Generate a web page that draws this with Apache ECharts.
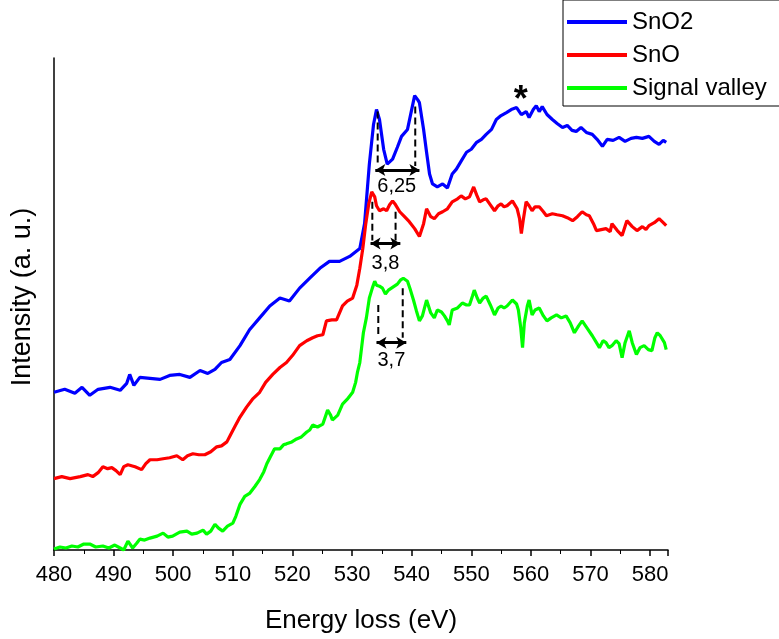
<!DOCTYPE html>
<html><head><meta charset="utf-8">
<script src="https://cdn.jsdelivr.net/npm/echarts@6/dist/echarts.min.js"></script>
<style>html,body{margin:0;padding:0;background:#fff}#c{width:779px;height:639px}</style>
</head><body><div id="c"></div>
<script>
const FONT = 'Liberation Sans, Arial, sans-serif';
const seriesNames = ['SnO2', 'SnO', 'Signal valley'];
const xTicks = [480, 490, 500, 510, 520, 530, 540, 550, 560, 570, 580];

const energySnO2 = [480.0,481.8,483.5,484.7,486.0,487.4,489.4,491.1,492.2,492.7,493.4,494.4,496.1,497.8,499.4,501.1,502.8,504.5,505.8,507.0,508.1,509.5,511.2,512.8,514.5,516.2,517.9,519.5,521.2,522.9,524.6,526.2,527.9,529.6,531.3,532.1,532.9,533.6,534.1,534.6,535.3,535.9,536.8,537.6,538.3,539.3,540.0,540.5,541.0,541.3,542.0,542.5,543.0,543.5,544.3,545.2,546.0,546.8,547.5,548.3,549.2,550.0,550.9,551.7,552.5,553.4,554.2,555.0,555.9,556.7,557.6,558.4,559.2,559.7,560.4,560.9,561.4,561.9,562.7,563.6,564.4,565.3,566.1,566.9,567.6,568.4,569.3,570.3,571.1,572.0,572.8,573.8,574.8,575.8,576.8,577.7,578.7,579.8,580.7,581.5,582.2,582.7];
const intensitySnO2 = [159,162,158,164,156,162,164,161,168,177,166,174,173,172,176,177,174,181,178,182,189,192,206,222,234,246,254,251,264,274,284,291,291,296,304,329,389,429,444,434,404,389,394,406,417,424,444,458,454,451,424,401,379,369,366,369,365,379,384,392,401,404,411,414,419,424,434,438,441,444,446,439,442,436,444,448,442,447,439,434,430,426,428,423,422,426,421,419,414,407,414,413,416,412,415,416,415,417,412,409,413,411];

const energySnO = [480.0,481.3,482.7,484.4,485.7,486.5,487.4,488.2,489.0,489.7,490.4,491.1,491.7,492.4,493.6,494.7,495.4,496.1,497.3,498.3,499.4,500.6,501.6,502.4,503.3,504.3,505.3,506.3,507.3,508.1,509.0,509.6,510.3,511.2,512.3,513.3,514.5,515.5,516.7,517.9,519.0,520.0,521.2,522.4,523.4,524.2,525.1,525.7,526.6,527.4,528.4,529.2,530.1,530.8,531.3,531.8,532.3,532.8,533.3,533.8,534.1,534.6,535.3,535.8,536.3,536.8,537.3,538.0,538.8,539.6,540.5,541.3,542.0,542.5,543.2,543.8,544.5,545.2,546.0,546.8,547.7,548.3,549.0,549.7,550.4,550.9,551.4,552.0,552.5,553.2,553.9,554.5,555.0,555.5,556.0,556.9,557.7,558.1,558.4,558.7,559.2,559.7,560.2,560.7,561.4,562.1,562.6,563.6,564.4,565.3,566.1,567.0,567.8,568.6,569.3,569.8,570.5,571.0,571.8,572.6,573.3,573.6,574.5,575.3,576.1,577.0,577.8,578.7,579.3,579.8,580.7,581.5,582.2,582.7];
const intensitySnO = [72,74,72,74,76,74,78,84,82,83,80,76,84,86,84,81,87,91,91,92,93,95,91,95,97,96,96,99,104,105,109,116,124,134,144,152,159,169,177,184,189,196,206,211,214,216,217,231,232,232,246,251,254,267,284,304,329,349,361,356,347,342,344,342,348,352,348,341,336,331,324,316,329,344,336,334,339,341,344,351,354,357,354,356,366,358,351,353,354,348,342,347,349,346,347,352,344,334,319,332,351,347,342,346,346,341,337,339,338,337,335,332,336,341,338,337,329,322,323,324,321,329,322,317,332,326,322,326,323,327,330,334,330,327];

const energyValley = [480.0,481.0,482.0,483.0,484.0,485.0,486.0,487.0,488.2,489.2,490.2,491.1,491.7,492.4,493.2,493.9,494.4,495.2,496.1,497.3,498.3,499.1,499.9,501.1,502.3,503.1,504.0,505.0,505.6,506.3,507.0,507.6,508.3,509.1,510.0,510.5,511.2,512.0,512.8,513.7,514.5,515.2,515.7,516.3,517.0,517.9,518.5,519.0,519.9,520.7,521.5,522.4,522.9,523.4,524.2,525.1,525.9,526.4,526.7,527.6,528.4,529.2,530.1,530.6,530.9,531.3,531.6,531.9,532.4,532.9,533.4,533.8,534.1,534.6,535.1,535.6,536.1,536.6,537.1,537.6,538.1,538.6,539.3,539.8,540.3,540.8,541.3,541.8,542.5,543.2,543.8,544.3,545.0,545.5,546.0,546.3,546.8,547.7,548.5,549.2,549.7,550.2,550.5,551.0,551.4,552.0,552.5,553.2,553.9,554.5,555.0,555.5,556.0,556.9,557.6,557.9,558.3,558.6,558.9,559.4,559.7,560.2,560.7,561.4,562.1,562.7,563.4,564.3,565.1,565.9,566.6,567.3,568.0,568.6,569.4,570.3,571.0,571.5,572.1,572.6,573.1,573.6,574.3,574.8,575.3,575.8,576.5,577.0,577.7,578.3,579.0,579.7,580.3,580.8,581.2,581.7,582.0,582.4,582.7];
const intensityValley = [1,3,2,4,3,6,6,3,4,2,5,2,0,9,2,7,11,10,12,14,17,13,14,18,19,16,17,20,16,19,26,22,19,24,27,34,46,54,57,64,71,79,87,94,102,102,106,107,109,112,114,119,121,126,124,127,141,136,131,136,147,152,159,169,179,189,204,219,234,254,264,271,267,266,264,258,262,264,266,268,272,274,271,262,252,241,231,236,252,239,234,242,240,236,231,227,242,244,249,247,247,256,262,254,249,254,256,247,237,244,246,244,246,252,248,242,224,204,229,246,252,237,242,244,236,231,234,237,234,236,229,219,226,231,224,216,209,204,211,209,204,206,211,208,194,209,221,209,197,204,206,202,201,214,219,216,217,209,202];

// peak-separation annotations (SnO2, SnO, Signal valley)
const peakLabels = ['6,25', '3,8', '3,7'];
const peakLeftX = [534.3, 533.4, 534.4];
const peakRightX = [540.6, 537.3, 538.5];
const dashLeftTop = [442, 351, 247];
const dashRightTop = [447, 341, 264];
const dashBottom = [387, 312, 214];
const arrowY = [383, 309, 209];
const arrowStartX = [533.9, 533.1, 534.1];
const arrowEndX = [541.3, 538.1, 539.1];
const labelX = [537.5, 535.6, 536.6];
const labelY = [366, 289, 191];
const starX = [558.3];
const starY = [462];

const colors = ['#0000ff', '#ff0000', '#00ff00'];
const zip = (a, b) => a.map((v, i) => [v, b[i]]);
const curves = [zip(energySnO2, intensitySnO2), zip(energySnO, intensitySnO), zip(energyValley, intensityValley)];

const series = curves.map((d, i) => ({
  name: seriesNames[i], type: 'line', data: d, showSymbol: false, symbol: 'none',
  lineStyle: { color: colors[i], width: 3.2 }, itemStyle: { color: colors[i] },
  smooth: false, z: 3, silent: true
}));

for (let i = 0; i < 3; i++) {
  series.push({ type: 'line', data: [[peakLeftX[i], dashLeftTop[i]], [peakLeftX[i], dashBottom[i]]],
    symbol: 'none', lineStyle: { color: '#000', width: 2, type: [7, 4] }, z: 4, silent: true });
  series.push({ type: 'line', data: [[peakRightX[i], dashRightTop[i]], [peakRightX[i], dashBottom[i]]],
    symbol: 'none', lineStyle: { color: '#000', width: 2, type: [7, 4] }, z: 4, silent: true });
}
series.push({
  type: 'line', data: [], silent: true, z: 5,
  markLine: {
    silent: true, symbol: ['arrow', 'arrow'], symbolSize: [9, 10], animation: false,
    lineStyle: { color: '#000', width: 3, type: 'solid' }, label: { show: false },
    data: peakLabels.map((_, i) => [{ coord: [arrowStartX[i], arrowY[i]] }, { coord: [arrowEndX[i], arrowY[i]] }])
  }
});
series.push({
  type: 'scatter', symbolSize: 1, itemStyle: { color: 'rgba(0,0,0,0)' }, silent: true, z: 6,
  data: peakLabels.map((t, i) => [labelX[i], labelY[i], t]),
  label: { show: true, position: 'inside', color: '#000', opacity: 1, textBorderWidth: 0,
    fontSize: 20, fontFamily: FONT, formatter: p => p.data[2] }
});
series.push({
  type: 'scatter', symbolSize: 1, itemStyle: { color: 'rgba(0,0,0,0)' }, silent: true, z: 6,
  data: starX.map((x, i) => [x, starY[i]]),
  label: { show: true, position: 'inside', color: '#000', opacity: 1, textBorderWidth: 0,
    fontSize: 36, fontWeight: 'bold', fontFamily: FONT, offset: [0, 9], formatter: () => '*' }
});

const chart = echarts.init(document.getElementById('c'), null, { renderer: 'canvas' });
chart.setOption({
  animation: false,
  backgroundColor: '#fff',
  textStyle: { fontFamily: FONT },
  grid: { left: 54, right: 111, top: 58, bottom: 85, containLabel: false },
  legend: {
    data: seriesNames, orient: 'vertical', left: 563, top: 0,
    icon: 'rect', itemWidth: 60, itemHeight: 4, itemGap: 9,
    borderColor: '#000', borderWidth: 1, padding: [10, 60, 6, 4],
    textStyle: { fontSize: 24, color: '#000', fontFamily: FONT }
  },
  xAxis: {
    type: 'value', min: 480, max: 583, interval: 10,
    name: 'Energy loss (eV)', nameLocation: 'middle', nameGap: 58,
    nameTextStyle: { fontSize: 26, color: '#000', fontFamily: FONT },
    axisLine: { show: true, onZero: false, lineStyle: { color: '#000', width: 1.5 } },
    axisTick: { show: true, inside: false, length: 6, lineStyle: { color: '#000', width: 1.5 } },
    minorTick: { show: true, splitNumber: 2, length: 4, lineStyle: { color: '#000', width: 1 } },
    axisLabel: { color: '#000', fontSize: 22, margin: 14, fontFamily: FONT,
      formatter: v => xTicks.includes(v) ? String(v) : '' },
    splitLine: { show: false }
  },
  yAxis: {
    type: 'value', min: 0, max: 496,
    name: 'Intensity (a. u.)', nameLocation: 'middle', nameGap: 18, nameRotate: 90,
    nameTextStyle: { fontSize: 27, color: '#000', fontFamily: FONT, padding: [0, 0, 0, 14] },
    axisLine: { show: true, onZero: false, lineStyle: { color: '#000', width: 1.5 } },
    axisTick: { show: false }, axisLabel: { show: false }, splitLine: { show: false }
  },
  series: series
});
</script></body></html>
